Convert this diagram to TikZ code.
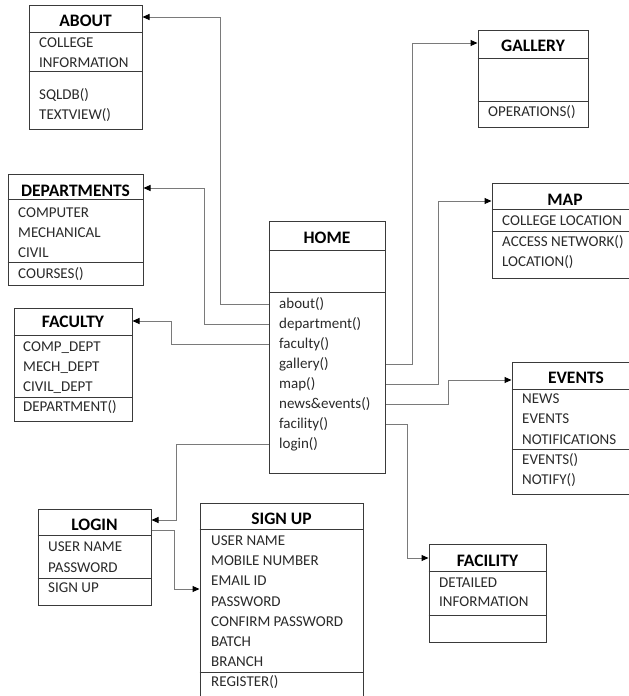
\documentclass[tikz,border=0pt]{standalone}
\usepackage{fontspec}
\setmainfont{Carlito}
\usetikzlibrary{arrows.meta,fit}
\definecolor{boxcol}{HTML}{3A3A3A}
\definecolor{conncol}{HTML}{7A7A7A}
\definecolor{txtcol}{HTML}{2A2A2A}
\tikzset{
 umlbox/.style={draw=boxcol, line width=1pt, inner sep=0pt, fit={#1}},
 sepline/.style={draw=boxcol, line width=1pt},
 ttl/.style={inner sep=0pt, font=\fontsize{17.5}{20}\selectfont\bfseries, text height=12.2pt, text depth=1pt, text=black},
 row/.style={anchor=west, inner sep=0pt, font=\fontsize{15}{18}\selectfont, text height=10.6pt, text depth=1pt, text=txtcol},
 conn/.style={draw=conncol, line width=1pt, -{Triangle[length=7pt,width=6pt,color=black]}},
}
\begin{document}
\begin{tikzpicture}[x=1pt,y=-1pt]
\useasboundingbox (0,0) rectangle (629,696);
\fill[white] (0,0) rectangle (629,696);
\clip (0,0) rectangle (629,696);

% ABOUT
\node[umlbox={(29,5)(142,129)}] (about) {};
\draw[sepline] (about.west |- 0,32) -- (about.east |- 0,32);
\draw[sepline] (about.west |- 0,71) -- (about.east |- 0,71);
\node[ttl] (aboutT) at (85.5,21) {ABOUT};
\node[row] (ab1) at (39,43) {COLLEGE};
\node[row] (ab2) at (39,63) {INFORMATION};
\node[row] (ab3) at (39,95) {SQLDB()};
\node[row] (ab4) at (39,115) {TEXTVIEW()};

% DEPARTMENTS
\node[umlbox={(8,174)(143,285)}] (dept) {};
\draw[sepline] (dept.west |- 0,199) -- (dept.east |- 0,199);
\draw[sepline] (dept.west |- 0,262) -- (dept.east |- 0,262);
\node[ttl] (deptT) at (75.5,191) {DEPARTMENTS};
\node[row] (de1) at (18,213) {COMPUTER};
\node[row] (de2) at (18,233) {MECHANICAL};
\node[row] (de3) at (18,253) {CIVIL};
\node[row] (de4) at (18,274) {COURSES()};

% FACULTY
\node[umlbox={(14,308)(132,421)}] (fac) {};
\draw[sepline] (fac.west |- 0,335) -- (fac.east |- 0,335);
\draw[sepline] (fac.west |- 0,397) -- (fac.east |- 0,397);
\node[ttl] (facT) at (73,322) {FACULTY};
\node[row] (fa1) at (23,347) {COMP\_DEPT};
\node[row] (fa2) at (23,367) {MECH\_DEPT};
\node[row] (fa3) at (23,387) {CIVIL\_DEPT};
\node[row] (fa4) at (23,407) {DEPARTMENT()};

% HOME
\node[umlbox={(269,221)(385,473)}] (home) {};
\draw[sepline] (home.west |- 0,250) -- (home.east |- 0,250);
\draw[sepline] (home.west |- 0,292) -- (home.east |- 0,292);
\node[ttl] (homeT) at (327,238) {HOME};
\node[row] (h1) at (279,304) {about()};
\node[row] (h2) at (279,324) {department()};
\node[row] (h3) at (279,344) {faculty()};
\node[row] (h4) at (279,364) {gallery()};
\node[row] (h5) at (279,384) {map()};
\node[row] (h6) at (279,404) {news\&events()};
\node[row] (h7) at (279,424) {facility()};
\node[row] (h8) at (279,444) {login()};

% GALLERY
\node[umlbox={(478,30)(588,127)}] (gal) {};
\draw[sepline] (gal.west |- 0,58) -- (gal.east |- 0,58);
\draw[sepline] (gal.west |- 0,101) -- (gal.east |- 0,101);
\node[ttl] (galT) at (533,46) {GALLERY};
\node[row] (ga1) at (488,112) {OPERATIONS()};

% MAP
\node[umlbox={(492,183)(638,278)}] (map) {};
\draw[sepline] (map.west |- 0,209) -- (map.east |- 0,209);
\draw[sepline] (map.west |- 0,231) -- (map.east |- 0,231);
\node[ttl] (mapT) at (565,200) {MAP};
\node[row] (ma1) at (502,221) {COLLEGE LOCATION};
\node[row] (ma2) at (502,242) {ACCESS NETWORK()};
\node[row] (ma3) at (502,262) {LOCATION()};

% EVENTS
\node[umlbox={(512,362)(640,494)}] (ev) {};
\draw[sepline] (ev.west |- 0,389) -- (ev.east |- 0,389);
\draw[sepline] (ev.west |- 0,449) -- (ev.east |- 0,449);
\node[ttl] (evT) at (576,378) {EVENTS};
\node[row] (ev1) at (522,399) {NEWS};
\node[row] (ev2) at (522,419) {EVENTS};
\node[row] (ev3) at (522,440) {NOTIFICATIONS};
\node[row] (ev4) at (522,460) {EVENTS()};
\node[row] (ev5) at (522,480) {NOTIFY()};

% LOGIN
\node[umlbox={(38,509)(151,605)}] (login) {};
\draw[sepline] (login.west |- 0,535) -- (login.east |- 0,535);
\draw[sepline] (login.west |- 0,578) -- (login.east |- 0,578);
\node[ttl] (loginT) at (94.5,525) {LOGIN};
\node[row] (lo1) at (48,547) {USER NAME};
\node[row] (lo2) at (48,568) {PASSWORD};
\node[row] (lo3) at (48,588) {SIGN UP};

% SIGN UP
\node[umlbox={(200,503)(363,700)}] (sign) {};
\draw[sepline] (sign.west |- 0,529) -- (sign.east |- 0,529);
\draw[sepline] (sign.west |- 0,672) -- (sign.east |- 0,672);
\node[ttl] (signT) at (281.5,519) {SIGN UP};
\node[row] (si1) at (211,541) {USER NAME};
\node[row] (si2) at (211,561) {MOBILE NUMBER};
\node[row] (si3) at (211,581) {EMAIL ID};
\node[row] (si4) at (211,602) {PASSWORD};
\node[row] (si5) at (211,622) {CONFIRM PASSWORD};
\node[row] (si6) at (211,642) {BATCH};
\node[row] (si7) at (211,662) {BRANCH};
\node[row] (si8) at (211,682) {REGISTER()};

% FACILITY
\node[umlbox={(429,544)(546,642)}] (faci) {};
\draw[sepline] (faci.west |- 0,571) -- (faci.east |- 0,571);
\draw[sepline] (faci.west |- 0,615) -- (faci.east |- 0,615);
\node[ttl] (faciT) at (487.5,561) {FACILITY};
\node[row] (fc1) at (439,583) {DETAILED};
\node[row] (fc2) at (439,602) {INFORMATION};

% connectors
\draw[conn] (home.west |- h1) -| (220,17) -- (about.east |- 0,17);
\draw[conn] (home.west |- h2) -| (204,188) -- (dept.east |- 0,188);
\draw[conn] (home.west |- h3) -| (171,321) -- (fac.east |- 0,321);
\draw[conn] (home.east |- h4) -| (412,43) -- (gal.west |- 0,43);
\draw[conn] (home.east |- h5) -| (438,201) -- (map.west |- 0,201);
\draw[conn] (home.east |- h6) -| (448,380) -- (ev.west |- 0,380);
\draw[conn] (home.east |- h7) -| (407,558) -- (faci.west |- 0,558);
\draw[conn] (home.west |- h8) -| (176,520) -- (login.east |- 0,520);
\draw[conn] (login.east |- 0,530) -| (174,589) -- (sign.west |- 0,589);
\end{tikzpicture}
\end{document}
